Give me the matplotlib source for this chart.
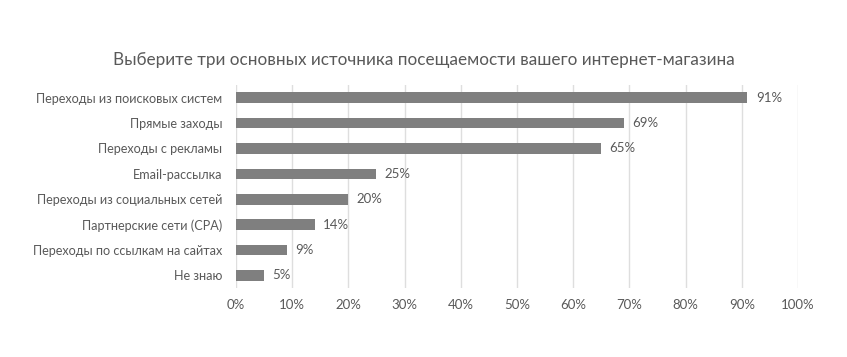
import matplotlib
matplotlib.use("Agg")
import matplotlib.pyplot as plt
from matplotlib.ticker import PercentFormatter

plt.rcParams['font.family'] = ['Lato', 'DejaVu Sans']

categories = [
    "Переходы из поисковых систем",
    "Прямые заходы",
    "Переходы с рекламы",
    "Email-рассылка",
    "Переходы из социальных сетей",
    "Партнерские сети (CPA)",
    "Переходы по ссылкам на сайтах",
    "Не знаю",
]
values = [91, 69, 65, 25, 20, 14, 9, 5]
title = "Выберите три основных источника посещаемости вашего интернет-магазина"

text_col = "#595959"
bar_col = "#7f7f7f"

fig = plt.figure(figsize=(8.47, 3.57), dpi=100)
ax = fig.add_axes([0.2786, 0.193, 0.6635, 0.569])

y = list(range(len(categories)))
ax.barh(y, values, height=0.42, color=bar_col, zorder=3)
for yi, v in zip(y, values):
    ax.text(v + 1.5, yi, f"{v}%", va="center", ha="left", fontsize=9.5, color=text_col)

ax.set_xlim(0, 100)
ax.set_ylim(len(categories) - 0.5, -0.5)
ax.set_xticks(range(0, 101, 10))
ax.xaxis.set_major_formatter(PercentFormatter(decimals=0))
ax.set_yticks(y)
ax.set_yticklabels(categories, fontsize=9.1)
ax.tick_params(axis="x", length=0, labelsize=9.5, colors=text_col, pad=8)
ax.tick_params(axis="y", length=0, colors=text_col, pad=10)
ax.grid(axis="x", color="#dedede", linewidth=1, zorder=0)
for s in ax.spines.values():
    s.set_visible(False)

fig.text(0.5, 1 - 60 / 357, title, ha="center", va="center", fontsize=12.3, color=text_col)

fig.savefig("out.png", dpi=100, facecolor="white")
